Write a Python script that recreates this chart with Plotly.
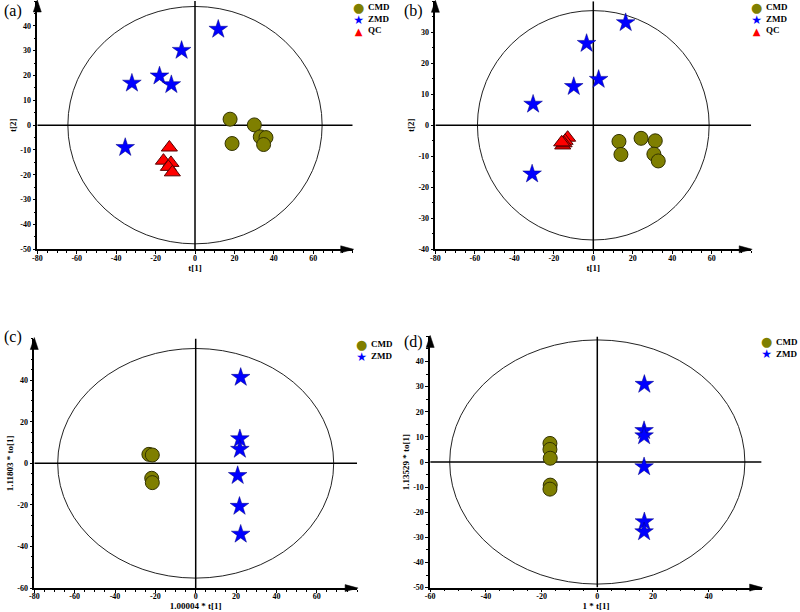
import plotly.graph_objects as go

# ---------------- data ----------------
# panel (a)
a_cmd_x = [17.8, 30.1, 33.1, 36.0, 34.8, 18.8]
a_cmd_y = [2.4, 0.1, -4.7, -5.0, -7.8, -7.4]
a_zmd_x = [11.8, -6.8, -18.0, -12.0, -32.0, -35.4]
a_zmd_y = [38.6, 30.1, 19.8, 16.3, 16.9, -9.0]
a_qc_x = [-13.0, -16.0, -12.2, -13.5, -11.5]
a_qc_y = [-9.0, -14.3, -15.2, -16.8, -19.0]
a_ellipse = [64.5, 47.8]

# panel (b)
b_cmd_x = [13.0, 14.0, 24.2, 31.4, 30.7, 32.9]
b_cmd_y = [-5.2, -9.4, -4.2, -5.0, -9.3, -11.5]
b_zmd_x = [16.4, -3.4, 2.7, -9.9, -30.5, -31.0]
b_zmd_y = [33.1, 26.4, 14.8, 12.5, 6.8, -15.7]
b_qc_x = [-13.0, -14.3, -15.5, -14.8, -16.0]
b_qc_y = [-4.0, -5.0, -6.5, -5.8, -5.5]
b_ellipse = [58.7, 37.0]

# panel (c)
c_cmd_x = [-23.2, -21.5, -21.8, -21.5]
c_cmd_y = [4.3, 4.0, -7.2, -9.3]
c_zmd_x = [22.3, 21.9, 21.9, 20.8, 21.7, 22.3]
c_zmd_y = [41.3, 11.8, 6.7, -5.9, -20.7, -34.1]
c_ellipse = [68.4, 55.2]

# panel (d)
d_cmd_x = [-17.0, -17.0, -16.9, -16.9, -17.0]
d_cmd_y = [7.4, 5.0, 1.5, -9.2, -10.8]
d_zmd_x = [16.9, 16.8, 16.8, 16.8, 16.9, 16.8]
d_zmd_y = [30.9, 12.5, 10.4, -1.9, -23.8, -27.8]
d_ellipse = [53.0, 48.6]

group_names = ["CMD", "ZMD", "QC"]
panel_labels = ["(a)", "(b)", "(c)", "(d)"]
x_titles = ["t[1]", "t[1]", "1.00004 * t[1]", "1 * t[1]"]
y_titles = ["t[2]", "t[2]", "1.11803 * to[1]", "1.13529 * to[1]"]

# ---------------- styling ----------------
W, H = 800, 612
SERIF = "Liberation Serif, Times New Roman, serif"
STYLE = {
    "CMD": dict(symbol="circle", size=14, color="#7f7f00", line=dict(color="#333300", width=1)),
    "ZMD": dict(symbol="star", size=14, color="#0000ff", line=dict(color="#00007f", width=0.5)),
    "QC": dict(symbol="triangle-up", size=14, color="#ff0000", line=dict(color="#550000", width=1)),
}
GLYPH = {"CMD": ("●", "#7f7f00", 13), "ZMD": ("★", "#0000ff", 12), "QC": ("▲", "#ff0000", 10)}
LEG_FONT = 9  # line spacing = 1.3 * LEG_FONT


def fx(px):
    return px / W


def fy(py):
    return 1 - py / H


panels = [
    dict(xr=[-80, 80], yr=[-50, 50], xpx=[37.3, 352.7], ypx=[1.0, 249.3],
         xt=list(range(-80, 61, 20)), yt=list(range(-50, 41, 10)), ell=a_ellipse,
         series=[("CMD", a_cmd_x, a_cmd_y), ("ZMD", a_zmd_x, a_zmd_y), ("QC", a_qc_x, a_qc_y)],
         lab=(2, 11), leg=(360, 7)),
    dict(xr=[-80, 80], yr=[-40, 40], xpx=[435.4, 751.2], ypx=[1.3, 249.3],
         xt=list(range(-80, 61, 20)), yt=list(range(-40, 31, 10)), ell=b_ellipse,
         series=[("CMD", b_cmd_x, b_cmd_y), ("ZMD", b_zmd_x, b_zmd_y), ("QC", b_qc_x, b_qc_y)],
         lab=(402, 11), leg=(757.7, 7)),
    dict(xr=[-80, 80], yr=[-60, 60], xpx=[34.3, 357.1], ypx=[338.5, 588.1],
         xt=list(range(-80, 61, 20)), yt=list(range(-60, 41, 20)), ell=c_ellipse,
         series=[("CMD", c_cmd_x, c_cmd_y), ("ZMD", c_zmd_x, c_zmd_y)],
         lab=(2, 337), leg=(363.3, 344.3)),
    dict(xr=[-60, 59], yr=[-50, 50], xpx=[430.2, 761.6], ypx=[336.4, 587.6],
         xt=list(range(-60, 41, 20)), yt=list(range(-50, 41, 10)), ell=d_ellipse,
         series=[("CMD", d_cmd_x, d_cmd_y), ("ZMD", d_zmd_x, d_zmd_y)],
         lab=(402, 342), leg=(767.7, 341.7)),
]

fig = go.Figure()
shapes = []
annotations = []
layout_axes = {}

for i, p in enumerate(panels):
    n = "" if i == 0 else str(i + 1)
    xa, ya = "x" + n, "y" + n
    tickfont = dict(family=SERIF, size=8, color="black", weight="bold")
    titlefont = dict(family=SERIF, size=9, color="black", weight="bold")
    common = dict(showline=True, linecolor="black", linewidth=1.5, showgrid=False,
                  zeroline=False, ticks="outside", ticklen=3, tickwidth=1, tickcolor="black",
                  tickfont=tickfont, automargin=False, fixedrange=True,
                  minor=dict(ticks="outside", ticklen=2, tickwidth=1, tickcolor="black",
                             dtick=5, tick0=0, showgrid=False))
    layout_axes["xaxis" + n] = dict(
        common, range=p["xr"], domain=[fx(p["xpx"][0]), fx(p["xpx"][1])],
        anchor=ya, tickmode="array", tickvals=p["xt"], ticktext=[str(v) for v in p["xt"]],
        ticklabelstandoff=-3,
        title=dict(text=x_titles[i], font=titlefont, standoff=1))
    layout_axes["yaxis" + n] = dict(
        common, range=p["yr"], domain=[fy(p["ypx"][1]), fy(p["ypx"][0])],
        anchor=xa, tickmode="array", tickvals=p["yt"], ticktext=[str(v) for v in p["yt"]],
        title=dict(text=y_titles[i], font=titlefont, standoff=2))

    # scatter groups
    for name, xs, ys in p["series"]:
        st = STYLE[name]
        fig.add_trace(go.Scatter(
            x=xs, y=ys, mode="markers", name=name, showlegend=False,
            xaxis=xa, yaxis=ya,
            marker=dict(symbol=st["symbol"], size=st["size"], color=st["color"], line=st["line"]),
        ))

    # confidence ellipse
    ea, eb = p["ell"]
    shapes.append(dict(type="circle", xref=xa, yref=ya, x0=-ea, x1=ea, y0=-eb, y1=eb,
                       line=dict(color="#222222", width=1), layer="below"))
    # zero cross lines
    shapes.append(dict(type="line", xref=xa, yref=ya, x0=p["xr"][0], x1=p["xr"][1], y0=0, y1=0,
                       line=dict(color="black", width=1.5), layer="below"))
    shapes.append(dict(type="line", xref=xa, yref=ya, x0=0, x1=0, y0=p["yr"][0], y1=p["yr"][1],
                       line=dict(color="black", width=1.5), layer="below"))

    # arrow heads on axis ends
    x0p, x1p = p["xpx"]
    y0p, y1p = p["ypx"]
    ypath = "M {:.5f},{:.5f} L {:.5f},{:.5f} L {:.5f},{:.5f} Z".format(
        fx(x0p), fy(y0p - 1), fx(x0p - 4), fy(y0p + 11), fx(x0p + 4), fy(y0p + 11))
    xpath = "M {:.5f},{:.5f} L {:.5f},{:.5f} L {:.5f},{:.5f} Z".format(
        fx(x1p + 1), fy(y1p), fx(x1p - 12), fy(y1p - 3.5), fx(x1p - 12), fy(y1p + 3.5))
    for path in (ypath, xpath):
        shapes.append(dict(type="path", xref="paper", yref="paper", path=path,
                           fillcolor="black", line=dict(color="black", width=0.5)))

    # panel label
    lx, ly = p["lab"]
    annotations.append(dict(text=panel_labels[i], xref="paper", yref="paper", x=fx(lx), y=fy(ly),
                            xanchor="left", yanchor="middle", showarrow=False,
                            font=dict(family=SERIF, size=16, color="black")))

    # legend: one column of glyphs + one column of names
    gx, gy = p["leg"]
    names = [s[0] for s in p["series"]]
    rows = len(names)
    dy = 1.3 * LEG_FONT
    ymid = gy + dy * (rows - 1) / 2.0
    glyph_txt = "<br>".join(
        '<span style="color:{};font-size:{}px">{}</span>'.format(GLYPH[nm][1], GLYPH[nm][2], GLYPH[nm][0])
        for nm in names)
    annotations.append(dict(text=glyph_txt, xref="paper", yref="paper", x=fx(gx + 5), y=fy(ymid),
                            xanchor="right", yanchor="middle", align="center", showarrow=False,
                            borderpad=0,
                            font=dict(family="DejaVu Sans", size=LEG_FONT, color="black")))
    annotations.append(dict(text="<br>".join(names), xref="paper", yref="paper",
                            x=fx(gx + 7), y=fy(ymid),
                            xanchor="left", yanchor="middle", align="left", showarrow=False,
                            borderpad=0,
                            font=dict(family=SERIF, size=LEG_FONT, color="black", weight="bold")))

fig.update_layout(
    width=W, height=H, margin=dict(l=0, r=0, t=0, b=0),
    paper_bgcolor="white", plot_bgcolor="white",
    showlegend=False, shapes=shapes, annotations=annotations,
    **layout_axes,
)

fig.write_html(
    "out.html",
    config={"displayModeBar": False},
    post_script="document.body.style.margin='0px';document.body.style.padding='0px';"
                "document.documentElement.style.overflow='hidden';",
)
